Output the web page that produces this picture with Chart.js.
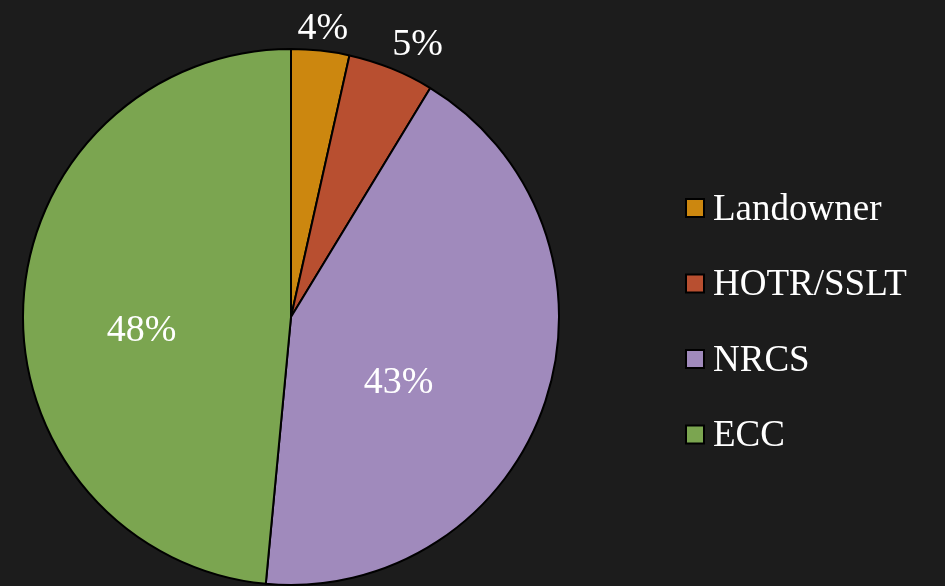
<!DOCTYPE html>
<html>
<head>
<meta charset="utf-8">
<script src="https://cdn.jsdelivr.net/npm/chart.js@4/dist/chart.umd.min.js"></script>
<style>
  html, body { margin: 0; padding: 0; background: #1c1c1c; }
  #wrap { position: relative; width: 945px; height: 586px; }
</style>
</head>
<body>
<div id="wrap"><canvas id="chart" width="945" height="586"></canvas></div>
<script>
const labels = ["Landowner", "HOTR/SSLT", "NRCS", "ECC"];
const shares = [3.5, 5.2, 42.8, 48.5];
const shareLabels = ["4%", "5%", "43%", "48%"];
const colors = ["#cc870f", "#b84f30", "#a08abc", "#7ba550"];

// label placement: fraction of radius and angle nudge (degrees)
const labelPlace = [
  { f: 1.08, nudge: 0 },
  { f: 1.12, nudge: 3 },
  { f: 0.47, nudge: 13 },
  { f: 0.56, nudge: -8 },
];

const FONT = "'Liberation Serif', 'DejaVu Serif', serif";

const pieText = {
  id: "pieText",
  afterDatasetsDraw(chart) {
    const ctx = chart.ctx;
    const meta = chart.getDatasetMeta(0);
    ctx.save();
    ctx.fillStyle = "#ffffff";
    ctx.textAlign = "center";
    ctx.textBaseline = "middle";
    ctx.font = "38px " + FONT;
    meta.data.forEach((arc, i) => {
      const { x, y, startAngle, endAngle, outerRadius } = arc.getProps(
        ["x", "y", "startAngle", "endAngle", "outerRadius"], true);
      const mid = (startAngle + endAngle) / 2 + labelPlace[i].nudge * Math.PI / 180;
      const r = outerRadius * labelPlace[i].f;
      ctx.fillText(shareLabels[i], x + Math.cos(mid) * r, y + Math.sin(mid) * r);
    });

    // legend
    const lx = 685, ly0 = 208, step = 75.5;
    ctx.textAlign = "left";
    ctx.font = "37px " + FONT;
    labels.forEach((name, i) => {
      const cy = ly0 + i * step;
      ctx.fillStyle = "#000";
      ctx.fillRect(lx, cy - 10, 20, 20);
      ctx.fillStyle = colors[i];
      ctx.fillRect(lx + 2, cy - 8, 16, 16);
      ctx.fillStyle = "#ffffff";
      ctx.fillText(name, lx + 28, cy + 2);
    });
    ctx.restore();
  },
};

new Chart(document.getElementById("chart"), {
  type: "pie",
  data: {
    labels,
    datasets: [{
      data: shares,
      backgroundColor: colors,
      borderColor: "#000000",
      borderWidth: 2,
    }],
  },
  options: {
    responsive: false,
    animation: false,
    layout: { padding: { left: 22, right: 385, top: 48, bottom: 0 } },
    plugins: {
      legend: { display: false },
      tooltip: { enabled: false },
    },
  },
  plugins: [pieText],
});
</script>
</body>
</html>
